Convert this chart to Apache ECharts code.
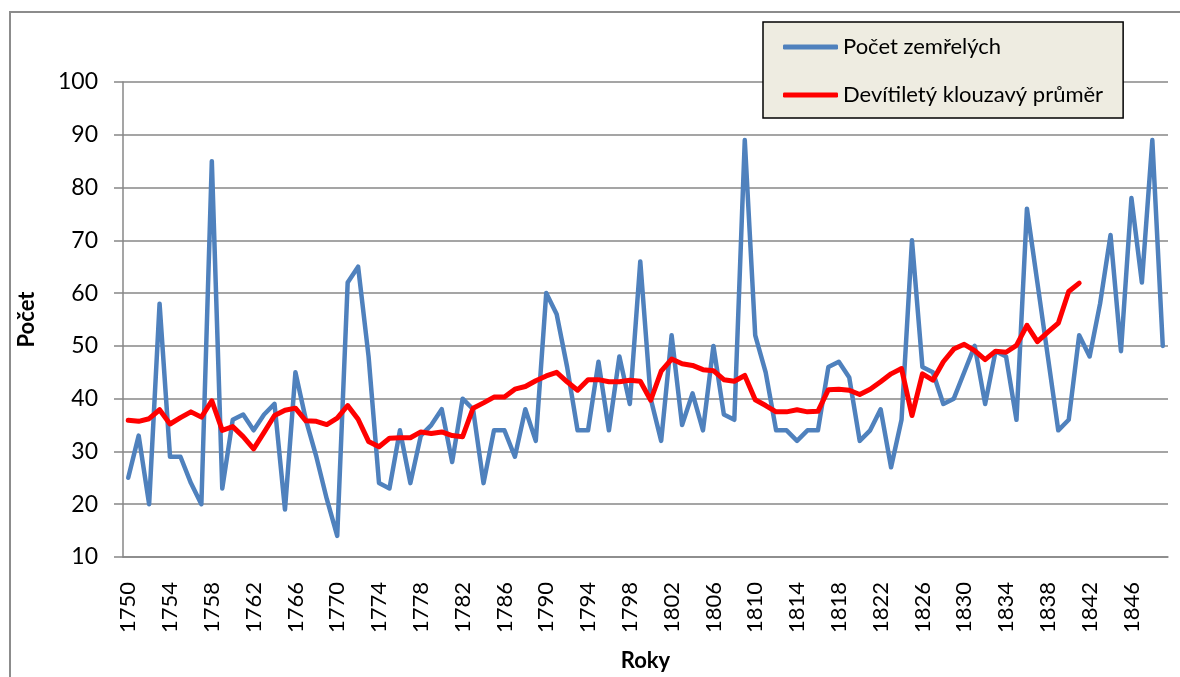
<!DOCTYPE html>
<html>
<head>
<meta charset="utf-8">
<script src="https://cdn.jsdelivr.net/npm/echarts@6/dist/echarts.min.js"></script>
<style>
  html, body { margin: 0; padding: 0; background: #fff; }
  #chart { width: 1180px; height: 677px; }
</style>
</head>
<body>
<div id="chart"></div>
<script>
// roky 1750 - 1849
var years = [];
for (var y = 1750; y <= 1849; y++) years.push(String(y));

// počet zemřelých
var deaths = [
  25, 33, 20, 58, 29, 29, 24, 20, 85, 23,
  36, 37, 34, 37, 39, 19, 45, 36, 29, 21,
  14, 62, 65, 48, 24, 23, 34, 24, 33, 35,
  38, 28, 40, 38, 24, 34, 34, 29, 38, 32,
  60, 56, 46, 34, 34, 47, 34, 48, 39, 66,
  40, 32, 52, 35, 41, 34, 50, 37, 36, 89,
  52, 45, 34, 34, 32, 34, 34, 46, 47, 44,
  32, 34, 38, 27, 36, 70, 46, 45, 39, 40,
  45, 50, 39, 49, 48, 36, 76, 62, 48, 34,
  36, 52, 48, 58, 71, 49, 78, 62, 89, 50
];

// devítiletý klouzavý průměr (1750 - 1841)
var movingAvg = [
  35.9, 35.7, 36.2, 37.9, 35.2, 36.4, 37.5, 36.5, 39.6, 34.0,
  34.7, 32.8, 30.5, 33.6, 36.8, 37.8, 38.2, 35.8, 35.7, 35.1,
  36.3, 38.7, 36.1, 31.9, 30.9, 32.5, 32.6, 32.6, 33.7, 33.4,
  33.7, 33.0, 32.8, 38.2, 39.2, 40.3, 40.3, 41.8, 42.3, 43.4,
  44.3, 45.0, 43.2, 41.6, 43.6, 43.6, 43.2, 43.2, 43.5, 43.3,
  39.7, 45.2, 47.5, 46.6, 46.3, 45.5, 45.3, 43.6, 43.3, 44.4,
  39.8, 38.7, 37.5, 37.5, 37.9, 37.5, 37.6, 41.7, 41.8, 41.6,
  40.8, 41.8, 43.2, 44.7, 45.7, 36.8, 44.7, 43.5, 47.0, 49.4,
  50.3, 49.1, 47.4, 49.0, 48.8, 50.1, 53.9, 50.8, 52.6, 54.3,
  60.3, 61.9
];

var yMin = 10, yMax = 100, yStep = 10;

var font = 'Lato, "Open Sans", "Noto Sans", sans-serif';
var gridColor = '#878787';

var chart = echarts.init(document.getElementById('chart'));
chart.setOption({
  animation: false,
  backgroundColor: '#fff',
  textStyle: { fontFamily: font },
  graphic: [{
    type: 'rect',
    shape: { x: 10, y: 12, width: 1200, height: 700 },
    style: { fill: 'none', stroke: '#8c8c8c', lineWidth: 2 },
    silent: true
  }],
  grid: { left: 123, right: 12, top: 82, bottom: 118 },
  legend: {
    orient: 'vertical',
    left: 763,
    top: 22,
    padding: [12, 20, 10, 20],
    itemGap: 22,
    itemWidth: 55,
    itemHeight: 5,
    icon: 'roundRect',
    backgroundColor: '#EEECE1',
    borderColor: '#000',
    borderWidth: 1.5,
    borderRadius: 0,
    textStyle: { fontSize: 22, lineHeight: 26, color: '#000', fontFamily: font },
    data: ['Počet zemřelých', 'Devítiletý klouzavý průměr']
  },
  xAxis: {
    type: 'category',
    data: years,
    boundaryGap: true,
    name: 'Roky',
    nameLocation: 'middle',
    nameGap: 93,
    nameTextStyle: { fontSize: 22, fontWeight: 'bold', color: '#000', fontFamily: font },
    axisLine: { show: true, lineStyle: { color: gridColor, width: 1.5 } },
    axisTick: { show: false },
    axisLabel: {
      interval: 3,
      rotate: 90,
      margin: 25,
      fontSize: 22,
      color: '#000',
      fontFamily: font
    },
    splitLine: { show: false }
  },
  yAxis: {
    type: 'value',
    min: yMin,
    max: yMax,
    interval: yStep,
    name: 'Počet',
    nameLocation: 'middle',
    nameGap: 85,
    nameRotate: 90,
    nameTextStyle: { fontSize: 22, fontWeight: 'bold', color: '#000', fontFamily: font },
    axisLine: { show: true, lineStyle: { color: gridColor, width: 1.5 } },
    axisTick: { show: true, inside: false, length: 9, lineStyle: { color: gridColor, width: 1.5 } },
    axisLabel: { margin: 25, fontSize: 23, color: '#000', fontFamily: font },
    splitLine: { show: true, lineStyle: { color: gridColor, width: 1.5 } }
  },
  series: [
    {
      name: 'Počet zemřelých',
      type: 'line',
      data: deaths,
      symbol: 'none',
      color: '#4F81BD',
      lineStyle: { color: '#4F81BD', width: 4.5, join: 'round', cap: 'round' },
      z: 2
    },
    {
      name: 'Devítiletý klouzavý průměr',
      type: 'line',
      data: movingAvg,
      symbol: 'none',
      color: '#FF0000',
      lineStyle: { color: '#FF0000', width: 5, join: 'round', cap: 'round' },
      z: 3
    }
  ]
});
</script>
</body>
</html>
